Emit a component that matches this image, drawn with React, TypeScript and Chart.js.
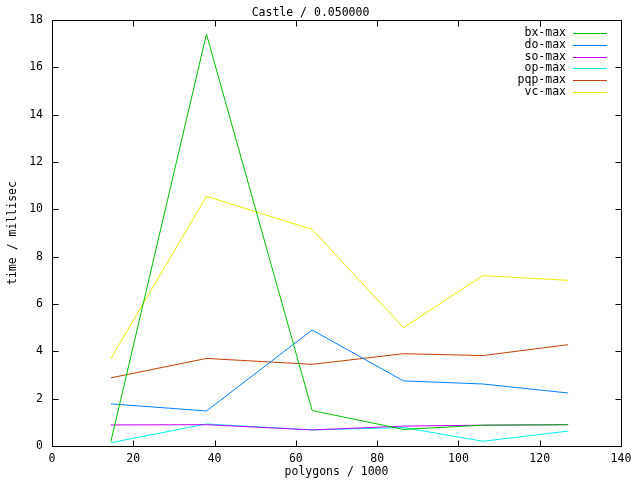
import React, { useEffect, useRef } from "react";
import { Chart, registerables } from "chart.js";

Chart.register(...registerables);

const TITLE = "Castle / 0.050000";
const X_LABEL = "polygons / 1000";
const Y_LABEL = "time / millisec";

const polygons = [14.5, 38, 64, 86.5, 106, 127];

const bxMax = [0.2, 17.4, 1.5, 0.7, 0.88, 0.9];
const doMax = [1.78, 1.48, 4.9, 2.75, 2.62, 2.24];
const soMax = [0.89, 0.9, 0.68, 0.84, 0.88, 0.9];
const opMax = [0.14, 0.93, 0.68, 0.78, 0.2, 0.63];
const pqpMax = [2.88, 3.7, 3.45, 3.9, 3.82, 4.28];
const vcMax = [3.7, 10.55, 9.15, 5.0, 7.2, 7.0];

const seriesNames = ["bx-max", "do-max", "so-max", "op-max", "pqp-max", "vc-max"];
const seriesValues = [bxMax, doMax, soMax, opMax, pqpMax, vcMax];
const seriesColors = ["#00c000", "#0080ff", "#c000ff", "#00eeee", "#c04000", "#eeee00"];

const FONT = "DejaVu Sans Mono";
const FONT_SIZE = 11.5;

const framePlugin = {
  id: "gnuFrame",
  afterDraw(chart: any) {
    const ctx = chart.ctx;
    const area = chart.chartArea;
    const xs = chart.scales.x;
    const ys = chart.scales.y;
    const L = Math.round(area.left) + 0.5;
    const R = Math.round(area.right) + 0.5;
    const T = Math.round(area.top) + 0.5;
    const B = Math.round(area.bottom) + 0.5;
    ctx.save();
    ctx.strokeStyle = "#000";
    ctx.lineWidth = 1;
    ctx.beginPath();
    ctx.rect(L, T, R - L, B - T);
    const tl = 6;
    xs.ticks.forEach((t: any) => {
      const px = Math.round(xs.getPixelForValue(t.value)) + 0.5;
      ctx.moveTo(px, B);
      ctx.lineTo(px, B - tl);
      ctx.moveTo(px, T);
      ctx.lineTo(px, T + tl);
    });
    ys.ticks.forEach((t: any) => {
      const py = Math.round(ys.getPixelForValue(t.value)) + 0.5;
      ctx.moveTo(L, py);
      ctx.lineTo(L + tl, py);
      ctx.moveTo(R, py);
      ctx.lineTo(R - tl, py);
    });
    ctx.stroke();

    // legend
    ctx.font = `${FONT_SIZE}px "${FONT}"`;
    ctx.textAlign = "right";
    ctx.textBaseline = "middle";
    seriesNames.forEach((name, i) => {
      const y = 33 + i * 11.8;
      ctx.fillStyle = "#000";
      ctx.fillText(name, 566, y);
      ctx.fillStyle = seriesColors[i];
      ctx.fillRect(573, Math.round(y), 34, 1);
    });
    ctx.restore();
  },
};

export default function App() {
  const ref = useRef<HTMLCanvasElement | null>(null);
  useEffect(() => {
    if (!ref.current) return;
    const chart = new Chart(ref.current, {
      type: "line",
      data: {
        datasets: seriesNames.map((name, i) => ({
          label: name,
          data: polygons.map((x, j) => ({ x, y: seriesValues[i][j] })),
          borderColor: seriesColors[i],
          backgroundColor: seriesColors[i],
          borderWidth: 1,
          pointRadius: 0,
          fill: false,
          tension: 0,
        })),
      },
      options: {
        animation: false,
        responsive: false,
        devicePixelRatio: 1,
        layout: { padding: { top: 0, right: 19, bottom: 0, left: 0 } },
        plugins: {
          legend: { display: false },
          tooltip: { enabled: false },
          title: {
            display: true,
            text: TITLE,
            color: "#000",
            font: { family: FONT, size: FONT_SIZE, weight: "normal" },
            padding: { top: 6, bottom: 0.2 },
          },
        },
        scales: {
          x: {
            type: "linear",
            min: 0,
            max: 140,
            grid: { display: false, drawTicks: false, tickLength: 0 },
            border: { display: false },
            ticks: {
              stepSize: 20,
              color: "#000",
              padding: 6,
              maxRotation: 0,
              font: { family: FONT, size: FONT_SIZE },
            },
            title: {
              display: true,
              text: X_LABEL,
              color: "#000",
              font: { family: FONT, size: FONT_SIZE },
              padding: { top: 0, bottom: 1 },
            },
            afterFit: (s: any) => {
              s.height = 34;
            },
          },
          y: {
            type: "linear",
            min: 0,
            max: 18,
            grid: { display: false, drawTicks: false, tickLength: 0 },
            border: { display: false },
            ticks: {
              stepSize: 2,
              color: "#000",
              padding: 9,
              font: { family: FONT, size: FONT_SIZE },
            },
            title: {
              display: true,
              text: Y_LABEL,
              color: "#000",
              font: { family: FONT, size: FONT_SIZE },
              padding: { top: 6, bottom: 4 },
            },
            afterFit: (s: any) => {
              s.width = 52;
            },
          },
        },
      },
      plugins: [framePlugin],
    });
    return () => chart.destroy();
  }, []);
  return (
    <div style={{ position: "absolute", left: 0, top: 0, width: 640, height: 480, background: "#fff" }}>
      <canvas ref={ref} width={640} height={480} style={{ display: "block" }} />
    </div>
  );
}
